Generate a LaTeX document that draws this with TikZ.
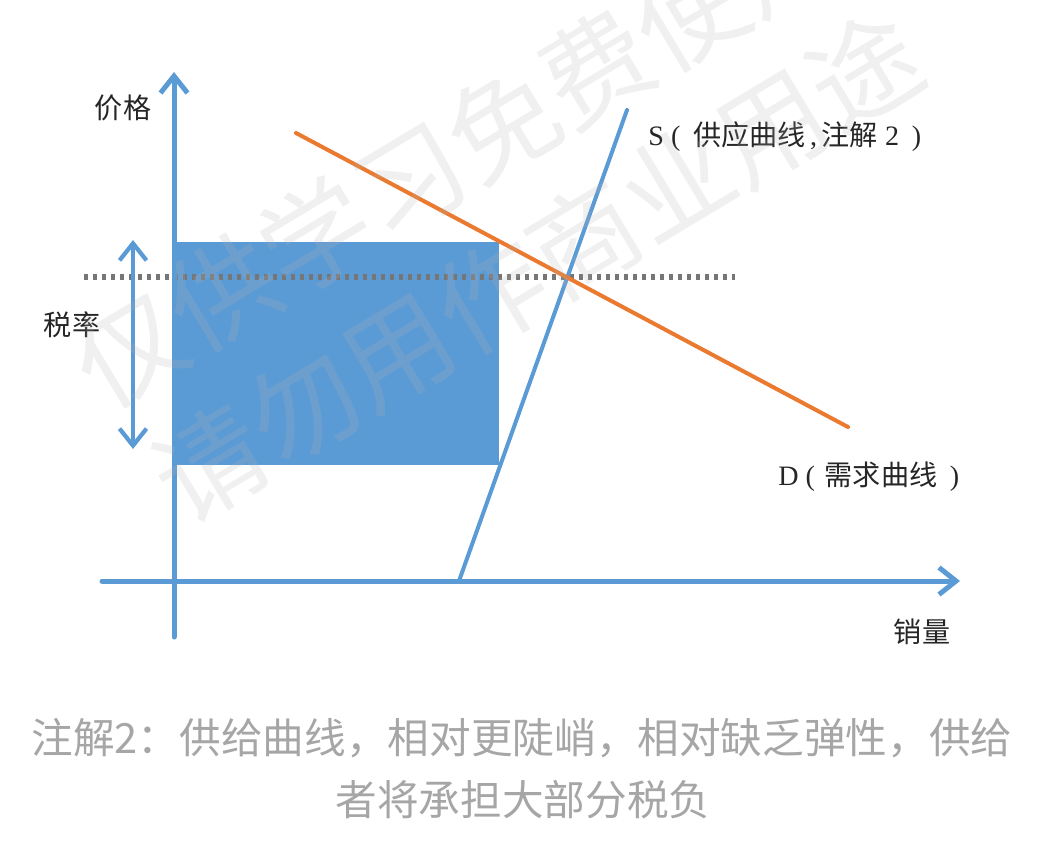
\documentclass[tikz,border=0pt]{standalone}
\usepackage{fontspec}
\setmainfont{Liberation Serif}
\newfontfamily\cjk{Noto Sans CJK SC}
\usetikzlibrary{arrows.meta}

\begin{document}
\begin{tikzpicture}[x=0.02cm, y=-0.02cm, line cap=round, line join=round,
      >={Straight Barb[length=3.4mm,width=5.4mm]},
      every node/.style={inner sep=0pt},
      lbl/.style={font=\cjk\fontsize{16}{19}\selectfont, text=black!85},
      capline/.style={font=\cjk\fontsize{23.7}{28}\selectfont, text=black!35},
      wmark/.style={font=\cjk\fontsize{62}{62}\selectfont, text=black!30,
        text opacity=0.2, rotate=31}]
    \definecolor{axisBlue}{RGB}{91,155,213}
    \definecolor{dmdOrange}{RGB}{234,122,48}
    \definecolor{dotGray}{RGB}{118,118,118}
    \useasboundingbox (0,0) rectangle (1062,868);
    % ==== anchor points ====
    \coordinate (yBot) at (174,637);
    \coordinate (yTop) at (174,72);
    \coordinate (xLft) at (102,581);
    \coordinate (xRgt) at (960,581);
    \coordinate (sLo) at (459,581);
    \coordinate (sHi) at (627,110);
    \coordinate (dHi) at (296,133);
    \coordinate (dLo) at (848,427);
    \coordinate (tTop) at (133,240);
    \coordinate (tBot) at (133,449);
    \coordinate (dotL) at (84,277);
    \coordinate (dotR) at (735,277);
    % ==== tax wedge ====
    \fill[axisBlue] (174,242) rectangle (499,465);
    \draw[dotGray, line width=1.1mm, line cap=butt,
      dash pattern=on 0.09cm off 0.09cm] (dotL) -- (dotR);
    % ==== axes ====
    \draw[axisBlue, line width=1mm, ->] (yBot) -- (yTop);
    \draw[axisBlue, line width=1mm, ->] (xLft) -- (xRgt);
    \draw[axisBlue, line width=0.85mm, <->] (tTop) -- (tBot);
    % ==== supply and demand ====
    \draw[axisBlue, line width=0.8mm] (sLo) -- (sHi);
    \draw[dmdOrange, line width=0.8mm] (dHi) -- (dLo);
    % ==== labels ====
    \node[lbl] (pLbl) at (123,108) {价格};
    \node[lbl] (tLbl) at (72,325) {税率};
    \node[lbl] (qLbl) at (922,632) {销量};
    \node[lbl, anchor=west] (sLbl) at (648,137)
      {{\rmfamily S (}\hspace{0.45em}供应曲线{\rmfamily\,,\,}注解{\rmfamily\ 2}\hspace{0.45em}{\rmfamily )}};
    \node[lbl, anchor=west] (dLbl) at (778,477)
      {{\rmfamily D (}\hspace{0.35em}需求曲线\hspace{0.45em}{\rmfamily )}};
    % ==== note below ====
    \node[capline] (noteA) at (522,738) {注解2：供给曲线，相对更陡峭，相对缺乏弹性，供给};
    \node[capline] (noteB) at (523,800) {者将承担大部分税负};
    % ==== watermark ====
    \node[wmark] (wmA) at (456,152) {仅供学习免费使用};
    \node[wmark] (wmB) at (537,267) {请勿用作商业用途};
  \end{tikzpicture}
\end{document}
